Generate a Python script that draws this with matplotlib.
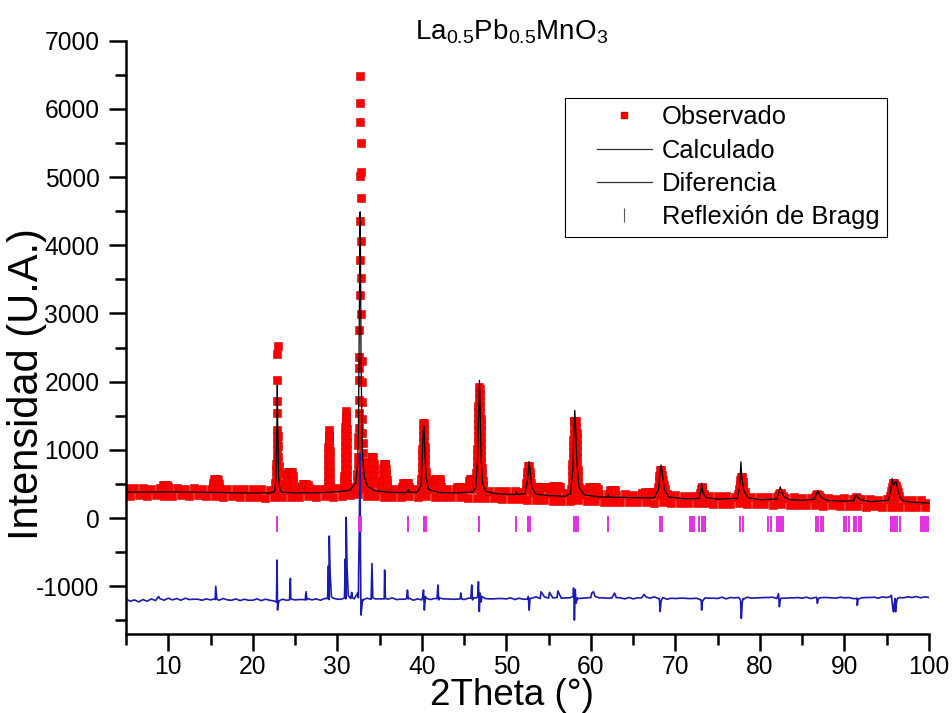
import matplotlib.pyplot as plt
import numpy as np
from matplotlib.legend_handler import HandlerLine2D
from matplotlib.lines import Line2D
from matplotlib.ticker import MultipleLocator

plt.rcParams["font.family"] = ["Liberation Sans", "DejaVu Sans"]
plt.rcParams["mathtext.default"] = "regular"
plt.rcParams["axes.unicode_minus"] = False

# scan grid for the background band and the difference curve
scan_2theta = np.arange(5.0, 100.01, 0.5)

# observed counts on the scan grid (background band)
obs_band = [
    440, 330, 435, 335, 445, 325, 430, 340, 440, 330,  # 5 - 9.5
    435, 330, 445, 335, 430, 325, 440, 335, 430, 330,  # 10 - 14.5
    430, 320, 425, 315, 420, 320, 430, 310, 420, 315,  # 15 - 19.5
    420, 305, 425, 300, 415, 310, 420, 305, 415, 310,  # 20 - 24.5
    425, 315, 430, 320, 420, 315, 425, 320, 430, 315,  # 25 - 29.5
    435, 330, 445, 340, 455, 350, 440, 330, 430, 320,  # 30 - 34.5
    425, 315, 420, 310, 425, 315, 415, 320, 425, 315,  # 35 - 39.5
    430, 320, 420, 310, 425, 305, 420, 315, 420, 310,  # 40 - 44.5
    415, 300, 420, 295, 405, 295, 400, 290, 395, 285,  # 45 - 49.5
    395, 280, 390, 275, 385, 270, 380, 265, 375, 270,  # 50 - 54.5
    365, 255, 360, 250, 370, 245, 365, 260, 355, 245,  # 55 - 59.5
    355, 245, 350, 240, 350, 240, 345, 235, 350, 240,  # 60 - 64.5
    345, 235, 340, 230, 350, 225, 340, 230, 335, 225,  # 65 - 69.5
    335, 220, 330, 215, 325, 220, 330, 215, 320, 210,  # 70 - 74.5
    325, 210, 320, 205, 315, 215, 320, 200, 315, 205,  # 75 - 79.5
    315, 200, 310, 195, 305, 205, 300, 190, 305, 195,  # 80 - 84.5
    300, 190, 295, 185, 300, 180, 290, 185, 285, 175,  # 85 - 89.5
    290, 175, 280, 170, 275, 165, 285, 170, 270, 160,  # 90 - 94.5
    275, 160, 280, 165, 270, 155, 265, 160, 260, 155,  # 95 - 99.5
    215,
]

# observed points on the peaks (2theta, counts)
obs_peak_points = [
    (9.2, 440), (9.4, 480), (9.6, 480), (9.8, 480), (10.0, 450),
    (15.3, 470), (15.35, 520), (15.45, 570), (15.6, 570), (15.75, 570), (15.9, 560),
    (16.0, 500), (16.05, 440),
    (22.65, 520), (22.7, 600), (22.75, 700), (22.8, 800), (22.82, 900), (22.84, 1020),
    (22.86, 1100), (22.87, 1200), (22.88, 1290), (22.89, 1545), (22.9, 1720),
    (22.91, 2020), (22.92, 2410), (22.93, 2530), (22.95, 1200), (22.97, 1050),
    (23.0, 900), (23.05, 760), (23.1, 640), (23.15, 520),
    (23.95, 480), (24.0, 560), (24.05, 640), (24.15, 680), (24.3, 680), (24.45, 680),
    (24.6, 680), (24.7, 620), (24.8, 540), (24.85, 470),
    (25.8, 450), (25.9, 500), (26.1, 500), (26.3, 500), (26.5, 490), (26.6, 440),
    (28.85, 450), (28.85, 530), (28.9, 610), (28.9, 700), (28.9, 780), (28.95, 860),
    (28.95, 950), (28.95, 1040), (29.0, 1120), (29.0, 1200), (29.0, 1290),
    (29.05, 1210), (29.05, 1100), (29.1, 990), (29.1, 880), (29.1, 770),
    (29.15, 660), (29.15, 560), (29.15, 470),
    (30.85, 460), (30.85, 540), (30.85, 620), (30.9, 700), (30.9, 790), (30.9, 880),
    (30.9, 970), (30.95, 1060), (30.95, 1150), (30.95, 1240), (30.95, 1330),
    (31.0, 1420), (31.0, 1500), (31.0, 1575), (31.05, 1490), (31.05, 1400),
    (31.1, 1300), (31.1, 1200), (31.1, 1100), (31.15, 1000), (31.15, 900),
    (31.15, 800), (31.2, 700), (31.2, 600), (31.2, 500),
    (32.3, 550), (32.35, 640), (32.4, 777), (32.45, 900), (32.47, 1070), (32.5, 1192),
    (32.52, 1315), (32.55, 1535), (32.57, 1730), (32.58, 2023), (32.59, 2195),
    (32.6, 2365), (32.62, 2757), (32.64, 3270), (32.66, 3783), (32.68, 4355),
    (32.7, 5015), (32.71, 5811), (32.72, 6486), (32.74, 6080), (32.76, 5494),
    (32.78, 5080), (32.8, 4687), (32.82, 4062), (32.84, 3515), (32.86, 2991),
    (32.88, 2300), (32.9, 2000), (32.92, 1700), (32.95, 1450), (32.98, 1250),
    (33.0, 1100), (33.03, 950), (33.06, 820), (33.1, 700), (33.2, 600), (33.3, 520),
    (33.8, 470), (33.85, 560), (33.9, 650), (33.95, 740), (34.0, 820), (34.05, 890),
    (34.15, 890), (34.25, 890), (34.3, 800), (34.35, 710), (34.4, 620), (34.45, 530),
    (35.3, 470), (35.35, 560), (35.4, 650), (35.45, 730), (35.5, 800), (35.6, 800),
    (35.7, 800), (35.75, 720), (35.8, 640), (35.85, 560), (35.9, 480),
    (37.7, 460), (37.8, 510), (38.0, 510), (38.2, 510), (38.4, 510), (38.5, 460),
    (39.9, 480), (39.95, 570), (40.0, 660), (40.0, 750), (40.05, 840), (40.05, 930),
    (40.05, 1020), (40.1, 1110), (40.1, 1200), (40.1, 1290), (40.15, 1400),
    (40.25, 1400), (40.3, 1310), (40.3, 1220), (40.3, 1130), (40.35, 1040),
    (40.35, 950), (40.4, 860), (40.4, 770), (40.45, 680), (40.45, 590), (40.55, 500),
    (41.35, 470), (41.4, 540), (41.5, 580), (41.7, 580), (41.9, 580), (42.1, 570),
    (42.2, 510), (42.25, 460),
    (44.2, 450), (44.4, 450), (44.6, 450), (44.8, 450),
    (45.55, 470), (45.6, 540), (45.7, 580), (45.85, 580), (46.0, 560), (46.05, 490),
    (46.4, 480), (46.45, 570), (46.45, 660), (46.5, 750), (46.5, 840), (46.55, 930),
    (46.55, 1020), (46.6, 1110), (46.6, 1200), (46.65, 1290), (46.65, 1380),
    (46.7, 1470), (46.7, 1560), (46.7, 1650), (46.75, 1740), (46.75, 1830),
    (46.75, 1920), (46.85, 1900), (46.85, 1810), (46.9, 1720), (46.9, 1630),
    (46.9, 1540), (46.95, 1450), (46.95, 1360), (46.95, 1270), (47.0, 1180),
    (47.0, 1090), (47.0, 1000), (47.05, 910), (47.05, 820), (47.1, 730), (47.1, 640),
    (47.2, 550), (47.2, 470),
    (52.3, 430), (52.35, 510), (52.4, 590), (52.45, 670), (52.55, 760), (52.7, 760),
    (52.8, 680), (52.85, 600), (52.9, 520), (52.95, 440),
    (53.7, 450), (53.9, 450), (54.1, 450), (54.3, 450), (54.5, 450), (54.7, 450),
    (54.9, 450), (55.1, 450),
    (55.5, 470), (55.7, 470), (55.9, 470), (56.1, 470), (56.3, 450),
    (57.7, 430), (57.75, 520), (57.75, 610), (57.8, 700), (57.8, 790), (57.85, 880),
    (57.85, 970), (57.9, 1060), (57.9, 1150), (57.95, 1240), (57.95, 1330),
    (57.95, 1430), (58.05, 1430), (58.15, 1430), (58.25, 1430), (58.25, 1340),
    (58.3, 1250), (58.3, 1160), (58.35, 1070), (58.35, 980), (58.4, 890),
    (58.4, 800), (58.45, 710), (58.45, 620), (58.5, 530), (58.6, 450),
    (59.6, 420), (59.8, 450), (60.0, 450), (60.2, 450), (60.4, 450), (60.6, 450),
    (60.8, 420),
    (62.3, 410), (62.5, 410), (62.7, 410), (62.9, 410),
    (66.0, 370), (66.4, 385), (66.8, 385), (67.2, 385), (67.6, 370),
    (67.85, 380), (67.95, 460), (68.05, 540), (68.1, 620), (68.2, 700), (68.35, 700),
    (68.45, 630), (68.55, 560), (68.65, 490), (68.8, 420), (68.95, 360),
    (72.9, 370), (73.0, 420), (73.1, 460), (73.2, 440), (73.35, 360),
    (77.4, 350), (77.5, 420), (77.6, 490), (77.7, 560), (77.75, 605), (77.85, 605),
    (77.95, 530), (78.05, 460), (78.2, 380),
    (82.1, 320), (82.25, 360), (82.4, 370), (82.55, 365), (82.7, 320),
    (86.5, 310), (86.65, 345), (86.8, 350), (86.95, 345), (87.1, 310),
    (91.2, 285), (91.35, 305), (91.5, 300), (91.65, 280),
    (95.4, 320), (95.5, 390), (95.6, 450), (95.7, 510), (95.85, 510), (96.0, 490),
    (96.1, 470), (96.2, 430), (96.35, 380), (96.5, 320),
]

# calculated profile
calc_2theta = [
    5, 7.5, 10, 12.5, 15, 17.5, 20, 22,
    22.6, 22.75, 22.85, 22.9, 22.95, 23.05, 23.2, 23.5,
    25, 27.5, 30, 31.5, 32.2, 32.4, 32.5, 32.6, 32.7, 32.75, 32.8, 32.9, 33.0, 33.2, 33.6,
    34.5, 36, 38, 38.3, 38.4, 38.5, 39.5,
    39.9, 40.05, 40.15, 40.25, 40.35, 40.5, 40.8, 42, 44, 46,
    46.4, 46.6, 46.75, 46.82, 46.9, 47.0, 47.2, 47.6, 49, 51, 51.1, 51.2, 51.3,
    52.2, 52.5, 52.7, 52.8, 53.0, 53.5, 55, 57,
    57.6, 57.85, 58.0, 58.1, 58.2, 58.35, 58.6, 59.2, 61, 61.9, 62.0, 62.1, 65, 67.5,
    68.0, 68.2, 68.3, 68.45, 68.7, 69.2, 71, 72.8,
    73.0, 73.1, 73.25, 73.6, 75, 77.3,
    77.6, 77.75, 77.85, 78.1, 78.6, 80, 82.0,
    82.3, 82.4, 82.55, 82.8, 83.5, 85, 86.4,
    86.7, 86.85, 87.0, 87.4, 88, 90, 91.1,
    91.35, 91.5, 91.8, 93, 95.2,
    95.5, 95.65, 95.8, 96.0, 96.1, 96.3, 96.6, 97, 98, 100,
]
calc_counts = [
    380, 382, 385, 382, 378, 372, 368, 368,
    390, 600, 1400, 1950, 1400, 600, 420, 380,
    370, 372, 385, 410, 520, 800, 1300, 2800, 4490, 3800, 2500, 1400, 900, 600, 460,
    400, 380, 372, 380, 420, 380, 380,
    480, 850, 1250, 1350, 1000, 600, 420, 375, 370, 380,
    450, 900, 1700, 2020, 1600, 900, 500, 390, 355, 345, 345, 380, 345,
    360, 550, 830, 700, 450, 350, 330, 320,
    360, 700, 1300, 1580, 1300, 800, 450, 340, 310, 308, 340, 308, 300, 295,
    420, 700, 780, 650, 420, 310, 285, 285,
    380, 510, 380, 300, 278, 290,
    450, 825, 600, 400, 300, 268, 280,
    400, 460, 400, 320, 270, 262, 275,
    360, 400, 350, 290, 258, 248, 255,
    340, 320, 275, 240, 260,
    420, 580, 480, 520, 540, 420, 300, 250, 235, 218,
]

# difference curve (offset) on the scan grid
diff_band = [
    -1185, -1220, -1200, -1230, -1195, -1220, -1185, -1210, -1180, -1205,
    -1175, -1200, -1180, -1205, -1175, -1195, -1190, -1190, -1205, -1185,
    -1200, -1185, -1205, -1180, -1200, -1205, -1185, -1210, -1190, -1205,
    -1205, -1185, -1210, -1190, -1205, -1215, -1225, -1190, -1205, -1180,
    -1200, -1195, -1195, -1180, -1200, -1185, -1205, -1180, -1195, -1175,
    -1190, -1190, -1185, -1165, -1185, -1170, -1195, -1175, -1190, -1185,
    -1185, -1185, -1190, -1170, -1195, -1190, -1190, -1175, -1205, -1185,
    -1200, -1175, -1195, -1180, -1200, -1185, -1185, -1190, -1190, -1185,
    -1195, -1175, -1200, -1170, -1195, -1180, -1185, -1185, -1180, -1180,
    -1185, -1170, -1195, -1175, -1190, -1190, -1175, -1155, -1180, -1155,
    -1175, -1170, -1165, -1175, -1170, -1170, -1185, -1180, -1175, -1170,
    -1165, -1150, -1170, -1170, -1175, -1170, -1165, -1170, -1185, -1165,
    -1185, -1170, -1170, -1155, -1175, -1155, -1180, -1165, -1190, -1175,
    -1180, -1175, -1175, -1180, -1180, -1175, -1200, -1170, -1175, -1175,
    -1180, -1160, -1185, -1165, -1170, -1165, -1180, -1160, -1175, -1170,
    -1170, -1165, -1165, -1160, -1180, -1175, -1175, -1170, -1170, -1165,
    -1175, -1160, -1180, -1165, -1170, -1165, -1165, -1170, -1175, -1160,
    -1170, -1165, -1180, -1175, -1170, -1165, -1165, -1160, -1175, -1155,
    -1165, -1150, -1180, -1165, -1170, -1155, -1165, -1150, -1170, -1155,
    -1165,
]

# difference curve around the peaks
diff_spike_2theta = [
    8.85, 15.55, 15.62, 15.75,
    22.8, 22.87, 22.93, 23.02, 23.1,
    24.35, 24.45, 24.6, 26.2, 26.3, 26.4,
    28.85, 28.95, 29.05, 29.15, 29.3,
    30.85, 30.95, 31.05, 31.15, 31.3, 31.6, 31.7, 31.8,
    32.4, 32.52, 32.6, 32.68, 32.74, 32.8, 32.9, 33.05,
    34.0, 34.1, 34.2, 35.55, 35.6, 35.7, 38.2, 38.3, 38.4,
    40.1, 40.2, 40.3, 40.42, 41.8, 41.9, 42.05, 44.55, 44.6, 44.7,
    45.8, 45.9, 46.05, 46.6, 46.7, 46.8, 46.9, 47.02, 47.1,
    52.6, 52.7, 52.8, 54.1, 55.1, 56.1,
    57.9, 57.95, 58.05, 58.15, 58.25, 58.42,
    60.1, 60.3, 62.8, 66.3, 68.1, 68.2, 68.3,
    73.05, 73.1, 73.2, 77.7, 77.8, 77.9, 78.05,
    82.2, 82.3, 82.4, 86.7, 86.8, 86.9, 91.4, 91.52, 91.6,
    95.55, 95.7, 95.8, 95.9, 96.05, 96.1, 96.25,
]
diff_spike_counts = [
    -1150, -1195, -1000, -1190,
    -1230, -616, -1349, -1260, -1215,
    -1200, -884, -1190, -1200, -1080, -1200,
    -1180, -700, -264, -800, -1150,
    -1170, -600, 10, -700, -1140, -1180, -1090, -1170,
    -1100, -800, -200, 950, -500, -1422, -1300, -1200,
    -1180, -665, -1170, -1185, -762, -1180, -1180, -1056, -1185,
    -1150, -1056, -1349, -1150, -1180, -982, -1170, -1180, -1100, -1185,
    -1175, -982, -1170, -1150, -933, -1370, -1100, -1230, -1150,
    -1150, -1350, -1180, -1080, -1090, -1070,
    -1150, -1026, -1496, -1050, -1250, -1170,
    -1100, -1080, -1100, -1120, -1180, -1370, -1220,
    -1200, -1350, -1220, -1200, -1471, -1250, -1190,
    -1110, -1300, -1200, -1160, -1250, -1190, -1180, -1280, -1190,
    -1130, -1300, -1374, -1250, -1374, -1280, -1180,
]

# Bragg reflection positions
bragg_2theta = [
    22.9, 32.6, 32.75, 38.4, 40.2, 40.45, 46.8, 51.2, 52.6, 52.85,
    58.0, 58.2, 58.45, 62.05, 68.15, 68.45, 71.75, 71.95, 72.25,
    72.85, 73.1, 73.35, 73.55, 77.65, 77.95, 80.95, 81.3,
    82.05, 82.25, 82.5, 82.75, 86.6, 86.9, 87.2, 87.5,
    89.95, 90.2, 90.5, 91.1, 91.4, 91.7, 91.95,
    95.55, 95.75, 96.0, 96.25, 96.6, 99.0, 99.2, 99.45, 99.7, 99.9,
]
bragg_level = -90

fig = plt.figure(figsize=(9.53, 7.13), dpi=100)
ax = fig.add_axes([0.1322, 0.1108, 0.8426, 0.8321])

peak_x, peak_y = zip(*obs_peak_points)
obs_x = np.concatenate([scan_2theta, peak_x])
obs_y = np.concatenate([obs_band, peak_y])
ax.plot(obs_x, obs_y, ls="none", marker="s", ms=5.2, mfc="#ff0000",
        mec="#d40000", mew=0.4)
ax.plot(calc_2theta, calc_counts, color="black", lw=0.9)

diff_x = np.concatenate([scan_2theta, diff_spike_2theta])
diff_y = np.concatenate([diff_band, diff_spike_counts])
order = np.argsort(diff_x, kind="stable")
ax.plot(diff_x[order], diff_y[order], color="#1a1ab0", lw=1.2)

ax.plot(bragg_2theta, np.full(len(bragg_2theta), bragg_level), ls="none",
        marker="|", ms=11, mew=1.4, color="#e030e0")

ax.set_xlim(5, 100)
ax.set_ylim(-1700, 7000)
ax.xaxis.set_major_locator(MultipleLocator(10))
ax.xaxis.set_minor_locator(MultipleLocator(5))
ax.yaxis.set_major_locator(MultipleLocator(1000))
ax.yaxis.set_minor_locator(MultipleLocator(500))
ax.tick_params(which="major", direction="out", length=12, width=1.8,
               labelsize=17.7, pad=7)
ax.tick_params(which="minor", direction="out", length=8, width=1.8)
ax.tick_params(axis="x", which="major", pad=3)
for side in ["top", "right"]:
    ax.spines[side].set_visible(False)
for side in ["left", "bottom"]:
    ax.spines[side].set_linewidth(1.8)

ax.set_xlabel("2Theta (°)", fontsize=26.5)
ax.set_ylabel("Intensidad (U.A.)", fontsize=30)
ax.xaxis.set_label_coords(0.481, -0.0735)
ax.yaxis.set_label_coords(-0.098, 0.421)

fig.text(0.537, 0.944, "La$_{0.5}$Pb$_{0.5}$MnO$_3$", ha="center",
         va="baseline", fontsize=20)

handles = [
    Line2D([], [], ls="none", marker="s", ms=4.5, mfc="#ff0000", mec="#d40000"),
    Line2D([], [], color="#333333", lw=0.9),
    Line2D([], [], color="#333333", lw=0.9),
    Line2D([], [], ls="none", marker="|", ms=10, mew=0.8, color="#555555"),
]
labels = ["Observado", "Calculado", "Diferencia", "Reflexión de Bragg"]
leg = ax.legend(handles, labels, loc="upper left", bbox_to_anchor=(0.5467, 0.904),
                borderaxespad=0, fontsize=18.4, fancybox=False, edgecolor="black",
                framealpha=1, handlelength=3.1, handletextpad=0.4,
                labelspacing=0.36, borderpad=0.3,
                handler_map={Line2D: HandlerLine2D(xpad=0.95)})
leg.get_frame().set_linewidth(0.8)

fig.savefig("out.png", dpi=100)
